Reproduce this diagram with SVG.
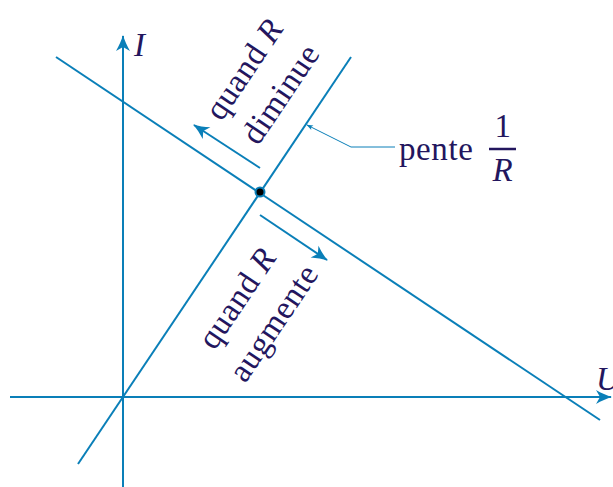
<svg xmlns="http://www.w3.org/2000/svg" width="613" height="487" viewBox="0 0 613 487">
<style>
.ln{stroke:#0a7fb8;stroke-width:2;fill:none}
.thin{stroke:#0a7fb8;stroke-width:1;fill:none}
.t{font-family:"Liberation Serif","DejaVu Serif",serif;font-size:33px;fill:#23165e;letter-spacing:0.6px}
.it{font-style:italic}
</style>
<defs>
<marker id="ah" markerUnits="userSpaceOnUse" markerWidth="24" markerHeight="18" viewBox="-18 -9 24 18" refX="0" refY="0" orient="auto">
<path d="M1,0 C-4,-1.5 -10,-4 -15,-7 L-11,0 L-15,7 C-10,4 -4,1.5 1,0 Z" fill="#0a7fb8"/>
</marker>
<marker id="sm" markerUnits="userSpaceOnUse" markerWidth="12" markerHeight="10" viewBox="-8 -5 12 10" refX="0" refY="0" orient="auto">
<path d="M0.5,0 L-6,-2.5 L-4.5,0 L-6,2.5 Z" fill="#0a7fb8"/>
</marker>
</defs>
<g id="connectors">
<line id="axis-U" class="ln" x1="10" y1="397" x2="611" y2="397" marker-end="url(#ah)"/>
<line id="axis-I" class="ln" x1="123" y1="487" x2="123" y2="36" marker-end="url(#ah)"/>
<line id="line-origin" class="ln" x1="78" y1="464" x2="351" y2="57"/>
<line id="line-load" class="ln" x1="56" y1="57" x2="600" y2="420"/>
<line id="arrow-diminue" class="ln" x1="260" y1="168" x2="194" y2="125" marker-end="url(#ah)"/>
<line id="arrow-augmente" class="ln" x1="260" y1="215" x2="327" y2="260" marker-end="url(#ah)"/>
<polyline id="leader" class="thin" points="395,147 351,147 307,125" marker-end="url(#sm)"/>
</g>
<g id="point">
<circle cx="260" cy="192" r="4.5" fill="#000" stroke="#0a7fb8" stroke-width="2"/>
</g>
<g id="label-I"><text class="t it" x="134" y="56">I</text></g>
<g id="label-U"><text class="t it" x="596" y="390">U</text></g>
<g id="label-diminue" transform="translate(263,82) rotate(-56)">
<text class="t" text-anchor="middle" x="0" y="-12">quand <tspan class="it">R</tspan></text>
<text class="t" text-anchor="middle" x="0" y="32">diminue</text>
</g>
<g id="label-augmente" transform="translate(256,311) rotate(-56)">
<text class="t" text-anchor="middle" x="0" y="-12">quand <tspan class="it">R</tspan></text>
<text class="t" text-anchor="middle" x="0" y="32">augmente</text>
</g>
<g id="label-pente">
<text class="t" x="399" y="160">pente</text>
<text class="t" text-anchor="middle" x="503" y="137">1</text>
<line x1="489" y1="149" x2="516" y2="149" stroke="#23165e" stroke-width="2.5"/>
<text class="t it" text-anchor="middle" x="503" y="181">R</text>
</g>
</svg>
